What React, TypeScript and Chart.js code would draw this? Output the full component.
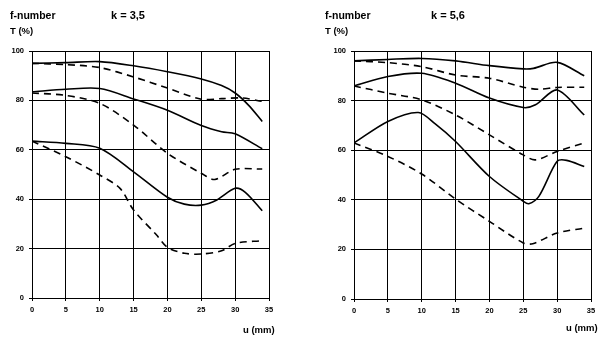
import React, { useEffect, useRef } from "react";
import { Chart, registerables } from "chart.js";
Chart.register(...registerables);

// ---- Data (u in mm, T in %) ----
const U_TICK_STEP = 5;
const T_TICK_STEP = 20;

// Left panel: k = 3,5
const L_S1_U = [0, 5, 10, 15, 20, 25, 28, 30, 32, 34];
const L_S1_T = [95, 95.3, 95.7, 94, 91.6, 88.7, 86, 83, 78, 71.5];
const L_D1_U = [0, 5, 10, 15, 20, 25, 28, 31, 34];
const L_D1_T = [95, 94.5, 93.3, 89.5, 85, 80.5, 80.7, 81, 79.6];
const L_S2_U = [0, 5, 10, 15, 20, 25, 28, 30, 34];
const L_S2_T = [83.5, 84.5, 84.8, 80.6, 76, 69.8, 67.3, 66.5, 60.4];
const L_D2_U = [0, 5, 10, 15, 20, 25, 27, 30, 34];
const L_D2_T = [83, 82, 78.8, 70, 58.6, 50.5, 48, 52.1, 52.2];
const L_S3_U = [0, 5, 10, 15, 20, 22.5, 25, 27.3, 30, 31.5, 34];
const L_S3_T = [63.5, 62.6, 60.6, 51.1, 40.8, 38, 37.6, 39.7, 44.4, 42.8, 35.3];
const L_D3_U = [0, 5, 10, 13, 15, 18.4, 20, 22.5, 25, 28, 30, 34];
const L_D3_T = [63.5, 57.2, 49.8, 44.4, 35.6, 25.5, 20.5, 18.1, 17.8, 19.1, 22.1, 23.2];

// Right panel: k = 5,6
const R_S1_U = [0, 5, 10, 15, 20, 25, 26.5, 30, 34];
const R_S1_T = [96, 96.6, 97, 96, 94.1, 92.8, 93, 95.4, 90];
const R_D1_U = [0, 5, 10, 15, 20, 25, 27.3, 30, 34];
const R_D1_T = [96, 95.3, 93.7, 90.3, 89, 85.4, 84.6, 85.3, 85.4];
const R_S2_U = [0, 5, 10, 15, 20, 25, 26.8, 30, 34];
const R_S2_T = [85.9, 89.7, 91, 87, 81, 77.2, 78.3, 84.3, 74.2];
const R_D2_U = [0, 5, 10, 15, 20, 25, 26.8, 30, 34];
const R_D2_T = [85.9, 83, 80.3, 74.2, 66.2, 58.1, 56.1, 59.5, 62.9];
const R_S3_U = [0, 5, 9.5, 12, 15, 20, 25, 25.8, 27.3, 30, 31.4, 34];
const R_S3_T = [62.9, 71.6, 75.2, 70.6, 63.5, 49.4, 39.4, 38.4, 41.4, 55.5, 55.9, 53.4];
const R_D3_U = [0, 5, 10, 15, 20, 25, 26.4, 30, 34];
const R_D3_T = [62.9, 57.5, 50.4, 40.3, 31.3, 22.6, 22.3, 26.6, 28.6];

const FONT = "'Liberation Sans', Arial, sans-serif";

type Curve = { u: number[]; t: number[]; dashed: boolean };

function mk(u: number[], t: number[], dashed: boolean): Curve {
  return { u, t, dashed };
}

const LEFT_CURVES: Curve[] = [
  mk(L_S1_U, L_S1_T, false),
  mk(L_D1_U, L_D1_T, true),
  mk(L_S2_U, L_S2_T, false),
  mk(L_D2_U, L_D2_T, true),
  mk(L_S3_U, L_S3_T, false),
  mk(L_D3_U, L_D3_T, true),
];
const RIGHT_CURVES: Curve[] = [
  mk(R_S1_U, R_S1_T, false),
  mk(R_D1_U, R_D1_T, true),
  mk(R_S2_U, R_S2_T, false),
  mk(R_D2_U, R_D2_T, true),
  mk(R_S3_U, R_S3_T, false),
  mk(R_D3_U, R_D3_T, true),
];

type PanelProps = {
  curves: Curve[];
  left: number;
  width: number;
  padLeft: number;
  padRight: number;
  padBottom: number;
  yWidth: number;
};

function Panel({ curves, left, width, padLeft, padRight, padBottom, yWidth }: PanelProps) {
  const ref = useRef<HTMLCanvasElement>(null);
  useEffect(() => {
    if (!ref.current) return;
    const chart = new Chart(ref.current, {
      type: "line",
      data: {
        datasets: curves.map((c) => ({
          data: c.u.map((u, i) => ({ x: u, y: c.t[i] })),
          borderColor: "#000",
          borderWidth: 1.6,
          borderDash: c.dashed ? [7, 5] : [],
          pointRadius: 0,
          fill: false,
          tension: 0.3,
        })),
      },
      options: {
        animation: false,
        responsive: false,
        devicePixelRatio: 1,
        layout: { padding: { left: padLeft, right: padRight, top: 51, bottom: padBottom } },
        plugins: { legend: { display: false }, tooltip: { enabled: false } },
        scales: {
          x: {
            type: "linear",
            min: 0,
            max: 35,
            ticks: {
              stepSize: U_TICK_STEP,
              color: "#000",
              font: { family: FONT, size: 7.5, weight: "bold" },
              padding: 4,
              maxRotation: 0,
            },
            grid: { color: "#000", lineWidth: 1, tickLength: 3, tickColor: "#000" },
            border: { color: "#000", width: 1 },
            afterFit: (s: any) => {
              s.height = 20;
            },
          },
          y: {
            min: 0,
            max: 100,
            ticks: {
              stepSize: T_TICK_STEP,
              color: "#000",
              font: { family: FONT, size: 7.5, weight: "bold" },
              padding: 5,
            },
            grid: { color: "#000", lineWidth: 1, tickLength: 3, tickColor: "#000" },
            border: { color: "#000", width: 1 },
            afterFit: (s: any) => {
              s.width = yWidth;
            },
          },
        },
      },
    });
    return () => chart.destroy();
  }, [curves, padLeft, padRight, padBottom, yWidth]);
  return (
    <canvas
      ref={ref}
      width={width}
      height={355}
      style={{ position: "absolute", left, top: 0, width, height: 355 }}
    />
  );
}

const txt = (
  s: string,
  left: number,
  top: number,
  size: number
): React.ReactElement => (
  <div
    key={s + left}
    style={{
      position: "absolute",
      left,
      top,
      fontFamily: FONT,
      fontWeight: "bold",
      fontSize: size,
      lineHeight: 1,
      whiteSpace: "pre",
      color: "#000",
    }}
  >
    {s}
  </div>
);

export default function App() {
  return (
    <div
      style={{
        position: "absolute",
        left: 0,
        top: 0,
        width: 605,
        height: 355,
        background: "#fff",
        overflow: "hidden",
      }}
    >
      <Panel curves={LEFT_CURVES} left={0} width={300} padLeft={0} padRight={31} padBottom={37} yWidth={32} />
      <Panel curves={RIGHT_CURVES} left={300} width={305} padLeft={20} padRight={14} padBottom={36} yWidth={34} />
      {txt("f-number", 10, 9.5, 10.5)}
      {txt("k = 3,5", 111, 9.5, 11)}
      {txt("T (%)", 10, 25.5, 9.5)}
      {txt("u (mm)", 243, 325, 9.5)}
      {txt("f-number", 325, 9.5, 10.5)}
      {txt("k = 5,6", 431, 9.5, 11)}
      {txt("T (%)", 325, 25.5, 9.5)}
      {txt("u (mm)", 566, 323, 9.5)}
    </div>
  );
}
